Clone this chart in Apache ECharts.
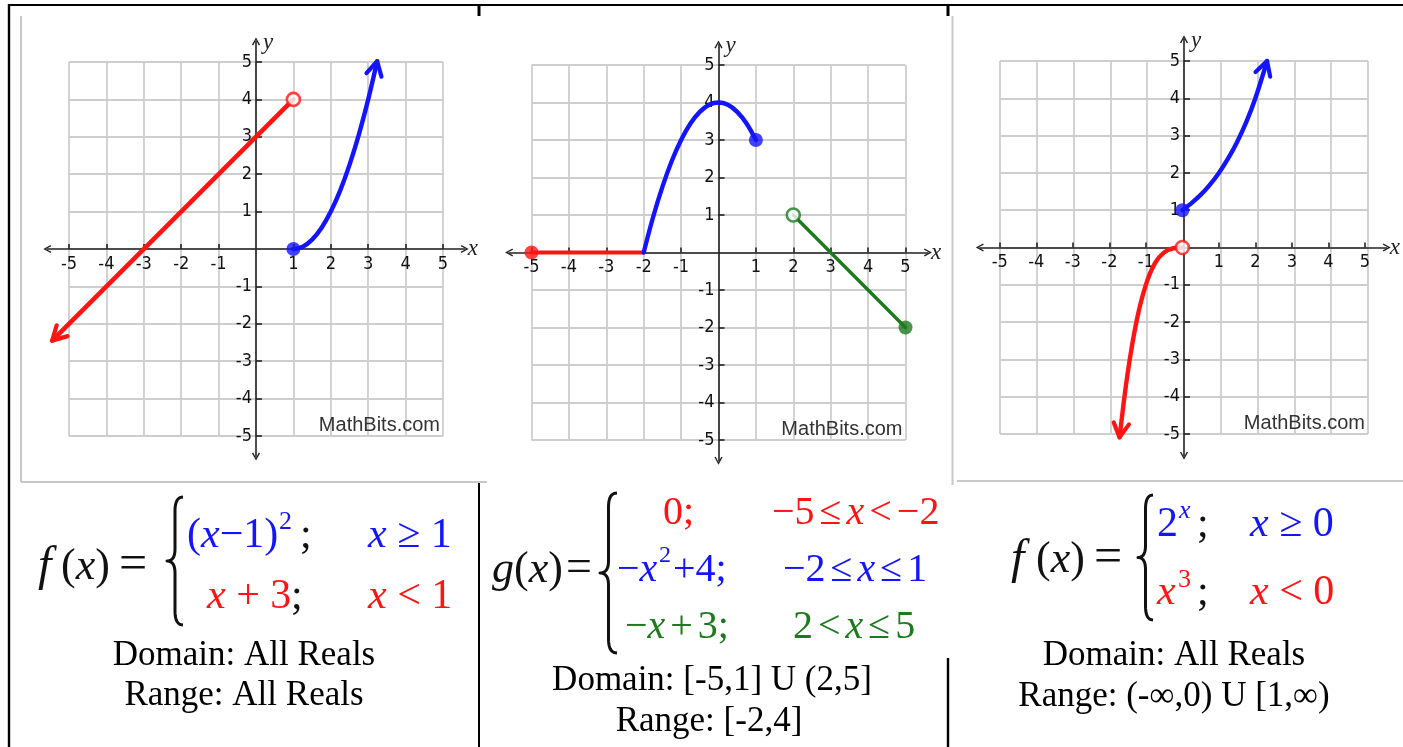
<!DOCTYPE html>
<html>
<head>
<meta charset="utf-8">
<script src="https://cdn.jsdelivr.net/npm/echarts@6/dist/echarts.min.js"></script>
<style>
  html, body { margin: 0; padding: 0; background: #fff; }
  #chart { width: 1403px; height: 747px; }
</style>
</head>
<body>
<div id="chart"></div>
<script>
// ---- tick labels shared by the three coordinate planes ----
const tickValues = [-5, -4, -3, -2, -1, 1, 2, 3, 4, 5];

// ---- f(x) = (x-1)^2 for x >= 1, x + 3 for x < 1 ----
const fBluePts   = [[1,0],[1.25,0.06],[1.5,0.25],[1.75,0.56],[2,1],[2.25,1.56],[2.5,2.25],[2.75,3.06],[3,4],[3.24,5.02]];
const fRedPts    = [[1,4],[-5.45,-2.45]];
const fBlueArrow = [[3.24,5.02, 3.0,4.0]];
const fRedArrow  = [[-5.45,-2.45, -4.5,-1.5]];
const fClosed    = [[1,0]];
const fOpen      = [[1,4]];

// ---- g(x): 0 on [-5,-2), -x^2+4 on [-2,1], -x+3 on (2,5] ----
const gRedPts    = [[-5,0],[-2,0]];
const gBluePts   = [[-2,0],[-1.75,0.94],[-1.5,1.75],[-1.25,2.44],[-1,3],[-0.75,3.44],[-0.5,3.75],[-0.25,3.94],[0,4],[0.25,3.94],[0.5,3.75],[0.75,3.44],[1,3]];
const gGreenPts  = [[2,1],[5,-2]];
const gRedClosed   = [[-5,0]];
const gBlueClosed  = [[1,3]];
const gGreenClosed = [[5,-2]];
const gGreenOpen   = [[2,1]];

// ---- f(x) = 2^x for x >= 0, x^3 for x < 0 ----
const hBluePts   = [[0,1],[0.25,1.19],[0.5,1.41],[0.75,1.68],[1,2],[1.25,2.38],[1.5,2.83],[1.75,3.36],[2,4],[2.32,5]];
const hRedPts    = [[0,0],[-0.25,-0.02],[-0.5,-0.13],[-0.75,-0.42],[-1,-1],[-1.25,-1.95],[-1.5,-3.38],[-1.72,-5.09]];
const hBlueArrow = [[2.32,5, 2.0,4.0]];
const hRedArrow  = [[-1.72,-5.09, -1.5,-3.38]];
const hClosed    = [[0,1]];
const hOpen      = [[0,0]];

const BLUE = '#1414ff', RED = '#ff1414', GREEN = '#1d7a1d';
const SERIF = '"Liberation Serif", "Times New Roman", serif';
const SANS = '"Liberation Sans", Arial, sans-serif';
const NARROW = '"Liberation Sans Narrow", "Arial Narrow", "DejaVu Sans Condensed", "Liberation Sans", sans-serif';

// pixel layout of each plane: origin, unit size, axis extents
const planes = [
  { cx: 256,   cy: 249,   ux: 37.4, uy: 37.4, xExt: [-5.58, 5.58], yExt: [-5.55, 5.55] },
  { cx: 718.5, cy: 252.5, ux: 37.4, uy: 37.5, xExt: [-5.6, 5.6],   yExt: [-5.55, 5.55] },
  { cx: 1184,  cy: 247.5, ux: 36.8, uy: 37.3, xExt: [-5.55, 5.6],  yExt: [-5.58, 5.58] }
];

const grids = [], xAxes = [], yAxes = [];
const chevron = 'path://M5,0 L10,9 L8.4,9.8 L5,3.2 L1.6,9.8 L0,9 Z';
planes.forEach(function (p) {
  // square lattice from -5 to 5
  grids.push({ left: p.cx - 5 * p.ux, top: p.cy - 5 * p.uy, width: 10 * p.ux, height: 10 * p.uy });
  const lattice = {
    type: 'value', min: -5, max: 5, interval: 1, gridIndex: grids.length - 1,
    axisLine: { show: false }, axisTick: { show: false }, axisLabel: { show: false },
    splitLine: { show: true, lineStyle: { color: '#cecece', width: 1.8 } }
  };
  xAxes.push(Object.assign({}, lattice));
  yAxes.push(Object.assign({}, lattice));
  // axes with arrows, shifted so that they cross at the origin
  grids.push({
    left: p.cx + p.xExt[0] * p.ux, width: (p.xExt[1] - p.xExt[0]) * p.ux,
    top: p.cy - p.yExt[1] * p.uy, height: (p.yExt[1] - p.yExt[0]) * p.uy
  });
  const gi = grids.length - 1;
  const lineStyle = { color: '#222', width: 1.6 };
  xAxes.push({
    type: 'value', gridIndex: gi, min: p.xExt[0], max: p.xExt[1],
    position: 'bottom', offset: p.yExt[0] * p.uy,
    splitLine: { show: false },
    axisLine: { onZero: false, symbol: [chevron, chevron], symbolSize: [10, 8], lineStyle: lineStyle },
    axisTick: { customValues: tickValues, inside: true, length: 5, lineStyle: lineStyle },
    axisLabel: { customValues: tickValues, margin: 6, color: '#111', fontFamily: NARROW, fontSize: 18 },
    name: 'x', nameLocation: 'end', nameGap: 3,
    nameTextStyle: { fontFamily: SERIF, fontStyle: 'italic', fontSize: 23, color: '#222', verticalAlign: 'middle' }
  });
  yAxes.push({
    type: 'value', gridIndex: gi, min: p.yExt[0], max: p.yExt[1],
    position: 'left', offset: p.xExt[0] * p.ux,
    splitLine: { show: false },
    axisLine: { onZero: false, symbol: [chevron, chevron], symbolSize: [10, 8], lineStyle: lineStyle },
    axisTick: { customValues: tickValues, inside: true, length: 6, lineStyle: lineStyle },
    axisLabel: { customValues: tickValues, margin: 4, color: '#111', fontFamily: NARROW, fontSize: 18 },
    name: 'y', nameLocation: 'end', nameGap: -2,
    nameTextStyle: { fontFamily: SERIF, fontStyle: 'italic', fontSize: 23, color: '#222', align: 'left', verticalAlign: 'middle', padding: [0, 0, 0, 7] }
  });
});

// series helpers, all drawn in the arrowed-axis grid of a plane
function axisIdx(k) { return { xAxisIndex: 2 * k + 1, yAxisIndex: 2 * k + 1 }; }
function curve(k, data, color, width, smooth) {
  return Object.assign({
    type: 'line', data: data, showSymbol: false, smooth: smooth ? 0.35 : false, z: 3, silent: true,
    lineStyle: { color: color, width: width, cap: 'round', join: 'round' }
  }, axisIdx(k));
}
function dots(k, data, color, open) {
  return Object.assign({
    type: 'scatter', data: data, symbol: 'circle', symbolSize: open ? 13 : 14, z: 5, silent: true,
    itemStyle: open ? { color: '#fff', borderColor: color, borderWidth: 2.6 } : { color: color }
  }, axisIdx(k));
}
function arrowHead(k, data, color) {
  return Object.assign({
    type: 'custom', data: data, z: 4, silent: true, clip: false,
    encode: { x: 0, y: 1 },
    renderItem: function (params, api) {
      const tip = api.coord([api.value(0), api.value(1)]);
      const from = api.coord([api.value(2), api.value(3)]);
      const ang = Math.atan2(tip[1] - from[1], tip[0] - from[0]);
      const L = 16, a = 0.5;
      const w1 = [tip[0] - L * Math.cos(ang - a), tip[1] - L * Math.sin(ang - a)];
      const w2 = [tip[0] - L * Math.cos(ang + a), tip[1] - L * Math.sin(ang + a)];
      return {
        type: 'polyline', shape: { points: [w1, tip, w2] },
        style: { stroke: color, lineWidth: 4.2, fill: null, lineCap: 'round', lineJoin: 'round' }
      };
    }
  }, axisIdx(k));
}

const series = [
  curve(0, fRedPts, RED, 4.6, false),
  curve(0, fBluePts, BLUE, 4.4, true),
  arrowHead(0, fRedArrow, RED),
  arrowHead(0, fBlueArrow, BLUE),
  dots(0, fClosed, BLUE, false),
  dots(0, fOpen, RED, true),

  curve(1, gRedPts, RED, 4, false),
  curve(1, gBluePts, BLUE, 4.4, true),
  curve(1, gGreenPts, GREEN, 3.4, false),
  dots(1, gRedClosed, RED, false),
  dots(1, gBlueClosed, BLUE, false),
  dots(1, gGreenClosed, GREEN, false),
  dots(1, gGreenOpen, GREEN, true),

  curve(2, hBluePts, BLUE, 4.4, true),
  curve(2, hRedPts, RED, 4.4, true),
  arrowHead(2, hBlueArrow, BLUE),
  arrowHead(2, hRedArrow, RED),
  dots(2, hClosed, BLUE, false),
  dots(2, hOpen, RED, true)
];

// ---- page furniture: table rules, picture frames, formulas, captions ----
function seg(x1, y1, x2, y2, color, w) {
  return { type: 'line', shape: { x1: x1, y1: y1, x2: x2, y2: y2 }, style: { stroke: color, lineWidth: w }, silent: true };
}
function txt(x, y, text, color, size, align) {
  return {
    type: 'text', x: x, y: y, silent: true,
    style: {
      text: text, fill: color, fontFamily: SERIF, fontSize: size,
      align: align || 'left', verticalAlign: 'middle',
      rich: {
        n: { fontFamily: SERIF, fontSize: size },
        i: { fontFamily: SERIF, fontSize: size, fontStyle: 'italic' },
        r: { fontFamily: SERIF, fontSize: size, padding: [0, 5, 0, 5] }
      }
    }
  };
}
// curly brace built from quadratic pieces sampled into a polyline
function brace(x0, x1, t, b) {
  const xm = (x0 + x1) / 2, m = (t + b) / 2;
  const pts = [];
  function quad(p0, c, p1) {
    for (let s = 0; s <= 10; s++) {
      const u = s / 10;
      pts.push([(1 - u) * (1 - u) * p0[0] + 2 * u * (1 - u) * c[0] + u * u * p1[0],
                (1 - u) * (1 - u) * p0[1] + 2 * u * (1 - u) * c[1] + u * u * p1[1]]);
    }
  }
  quad([x1, t], [xm, t], [xm, t + 14]);
  quad([xm, m - 12], [xm, m], [x0, m]);
  quad([x0, m], [xm, m], [xm, m + 12]);
  quad([xm, b - 14], [xm, b], [x1, b]);
  return { type: 'polyline', shape: { points: pts }, style: { stroke: '#111', lineWidth: 3, fill: null, lineJoin: 'round' }, silent: true };
}
function watermark(p) {
  return {
    type: 'text', x: p.cx + 5 * p.ux - 3, y: p.cy + 5 * p.uy - 11, silent: true, z: 1,
    style: { text: 'MathBits.com', fill: '#333', fontFamily: SANS, fontSize: 20, align: 'right', verticalAlign: 'middle' }
  };
}

const graphics = [
  // table rules
  seg(9, 5, 1403, 5, '#000', 2),
  seg(9, 4, 9, 747, '#000', 2.4),
  seg(479, 5, 479, 16, '#000', 3),
  seg(948, 5, 948, 16, '#000', 3),
  seg(479, 483, 479, 747, '#000', 2),
  seg(948, 658, 948, 747, '#000', 2.4),
  // picture frames
  seg(21, 16, 21, 482, '#c8c8c8', 2),
  seg(21, 482, 487, 482, '#c8c8c8', 2),
  seg(952.5, 16, 952.5, 485, '#c8c8c8', 2),
  seg(957, 481, 1403, 481, '#c8c8c8', 2),
  watermark(planes[0]), watermark(planes[1]), watermark(planes[2]),

  // f(x) = { (x-1)^2 ; x >= 1 | x + 3 ; x < 1 }
  txt(38, 567, '{i|f}', '#111', 48),
  txt(61, 567, '{n|(}{i|x}{n|)}', '#111', 44),
  txt(119, 566, '=', '#111', 50),
  brace(167, 183, 497, 625),
  txt(187, 536, '{n|(}{i|x}{n|−1)}', BLUE, 42),
  txt(279, 522, '2', BLUE, 26),
  txt(300, 536, ';', '#111', 42),
  txt(368, 536, '{i|x}{n| ≥ 1}', BLUE, 42),
  txt(207, 597, '{i|x}{n| + 3}', RED, 42),
  txt(291, 597, ';', '#111', 42),
  txt(368, 597, '{i|x}{n| < 1}', RED, 42),
  txt(244, 656, 'Domain: All Reals', '#000', 35, 'center'),
  txt(244, 696, 'Range: All Reals', '#000', 35, 'center'),

  // g(x) = { 0 ; -5<=x<-2 | -x^2+4 ; -2<=x<=1 | -x+3 ; 2<x<=5 }
  txt(492, 570, '{i|g}{n|(}{i|x}{n|)}', '#111', 44),
  txt(566, 569, '=', '#111', 46),
  brace(600, 617, 493, 653),
  txt(663, 513, '0;', RED, 40),
  txt(772, 513, '{n|−5}{r|≤}{i|x}{r|<}{n|−2}', RED, 40),
  txt(617, 570, '{n|−}{i|x}', BLUE, 40),
  txt(659, 556, '2', BLUE, 24),
  txt(673, 570, '{n|+4;}', BLUE, 40),
  txt(783, 570, '{n|−2}{r|≤}{i|x}{r|≤}{n|1}', BLUE, 40),
  txt(625, 627, '{n|−}{i|x}{r|+}{n|3;}', GREEN, 40),
  txt(793, 627, '{n|2}{r|<}{i|x}{r|≤}{n|5}', GREEN, 40),
  txt(712, 681, 'Domain: [-5,1] U (2,5]', '#000', 35, 'center'),
  txt(709, 722, 'Range: [-2,4]', '#000', 35, 'center'),

  // f(x) = { 2^x ; x >= 0 | x^3 ; x < 0 }
  txt(1011, 560, '{i|f}', '#111', 48),
  txt(1036, 560, '{n|(}{i|x}{n|)}', '#111', 44),
  txt(1094, 559, '=', '#111', 50),
  brace(1138, 1153, 495, 620),
  txt(1157, 525, '2', BLUE, 42),
  txt(1179, 511, '{i|x}', BLUE, 26),
  txt(1197, 525, ';', '#111', 42),
  txt(1250, 525, '{i|x}{n| ≥ 0}', BLUE, 42),
  txt(1157, 593, '{i|x}', RED, 42),
  txt(1178, 580, '3', RED, 26),
  txt(1197, 593, ';', '#111', 42),
  txt(1250, 593, '{i|x}{n| < 0}', RED, 42),
  txt(1174, 656, 'Domain: All Reals', '#000', 35, 'center'),
  txt(1174, 697, 'Range: (-∞,0) U [1,∞)', '#000', 35, 'center')
];

const chart = echarts.init(document.getElementById('chart'), null, { renderer: 'canvas', width: 1403, height: 747 });
chart.setOption({
  backgroundColor: '#fff',
  animation: false,
  grid: grids,
  xAxis: xAxes,
  yAxis: yAxes,
  series: series,
  graphic: { elements: graphics }
});
</script>
</body>
</html>
